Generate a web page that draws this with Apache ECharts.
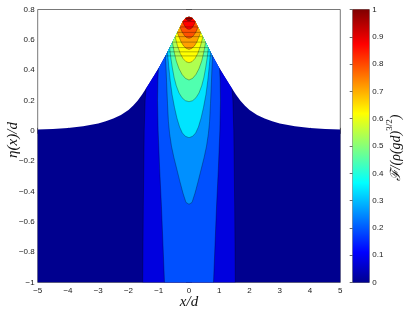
<!DOCTYPE html>
<html><head><meta charset="utf-8">
<script src="https://cdn.jsdelivr.net/npm/echarts@6/dist/echarts.min.js"></script>
<style>html,body{margin:0;padding:0;background:#fff}#c{width:407px;height:311px}</style>
</head><body><div id="c"></div>
<script>
// ---- data ----
const xTicks = [-5,-4,-3,-2,-1,0,1,2,3,4,5];
const yTicks = [-1,-0.8,-0.6,-0.4,-0.2,0,0.2,0.4,0.6,0.8];
const cbTicks = [0,0.1,0.2,0.3,0.4,0.5,0.6,0.7,0.8,0.9,1];

// free surface eta(x)/d
const surfaceX = [-5,-4.5,-4,-3.5,-3,-2.75,-2.5,-2.25,-2,-1.85,-1.7,-1.55,-1.4,-1.25,-1,-0.75,-0.5,-0.3,-0.2,-0.1,0,
                  0.1,0.2,0.3,0.5,0.75,1,1.25,1.4,1.55,1.7,1.85,2,2.25,2.5,2.75,3,3.5,4,4.5,5];
const surfaceY = [0.008,0.012,0.019,0.03,0.049,0.063,0.081,0.105,0.138,0.165,0.198,0.24,0.285,0.333,0.415,0.505,0.605,0.685,0.724,0.745,0.752,
                  0.745,0.724,0.685,0.605,0.505,0.415,0.333,0.285,0.24,0.198,0.165,0.138,0.105,0.081,0.063,0.049,0.03,0.019,0.012,0.008];

// contour lines (left branch, bottom -> free surface); the picture is symmetric about x = 0
const contour1  = [[-1.53,-1],[-1.51,-0.5],[-1.48,0],[-1.45,0.2],[-1.42,0.279]];
const contour2  = [[-0.81,-1],[-0.86,-0.75],[-0.91,-0.5],[-0.97,-0.25],[-1.02,0],[-1.04,0.2],[-1.03,0.33],[-1.01,0.412]];
const contour3  = [[0,-0.484],[-0.1,-0.472],[-0.2,-0.41],[-0.3,-0.335],[-0.4,-0.255],[-0.5,-0.175],[-0.58,-0.1],[-0.64,-0.02],[-0.68,0.06],[-0.71,0.18],[-0.74,0.32],[-0.76,0.42],[-0.78,0.494]];
const contour4  = [[0,-0.045],[-0.12,-0.036],[-0.22,-0.014],[-0.31,0.025],[-0.4,0.085],[-0.48,0.155],[-0.56,0.24],[-0.62,0.33],[-0.67,0.425],[-0.71,0.521]];
const contour5  = [[0,0.192],[-0.12,0.199],[-0.23,0.218],[-0.33,0.25],[-0.42,0.297],[-0.49,0.35],[-0.55,0.415],[-0.6,0.48],[-0.64,0.549]];
const contour6  = [[0,0.335],[-0.12,0.346],[-0.23,0.372],[-0.33,0.41],[-0.42,0.46],[-0.49,0.52],[-0.55,0.585]];
const contour7  = [[0,0.449],[-0.1,0.456],[-0.2,0.477],[-0.29,0.51],[-0.38,0.56],[-0.46,0.621]];
const contour8  = [[0,0.537],[-0.09,0.543],[-0.18,0.56],[-0.26,0.585],[-0.33,0.62],[-0.39,0.649]];
const contour9  = [[0,0.61],[-0.08,0.615],[-0.15,0.628],[-0.23,0.652],[-0.3,0.685]];
const contour10 = [[0,0.669],[-0.06,0.672],[-0.11,0.682],[-0.16,0.698],[-0.21,0.72]];
const contour11 = [[0,0.726],[-0.04,0.727],[-0.08,0.732],[-0.12,0.741]];

const bandColors = ['#00008f','#0000df','#0050ff','#0090ff','#00e4ff','#50ffaf','#afff50','#ffff00','#ffa000','#ff5000','#ff0000','#9f0000'];
const jetStops = [[0,'#00008f'],[0.111,'#0000ff'],[0.365,'#00ffff'],[0.619,'#ffff00'],[0.873,'#ff0000'],[1,'#800000']];

// ---- build polygons / line paths from the arrays ----
const contours = [contour1,contour2,contour3,contour4,contour5,contour6,contour7,contour8,contour9,contour10,contour11];
const surface = surfaceX.map((x,i)=>[x,surfaceY[i]]);
const polys = [[[-5,-1]].concat(surface,[[5,-1]])];
const lines = [];
contours.forEach(left=>{
  const xe = left[left.length-1][0];
  const mid = surface.filter(p=>p[0]>xe+1e-9 && p[0]< -xe-1e-9);
  const right = left.slice().reverse().map(p=>[-p[0],p[1]]);
  polys.push(left.concat(mid,right));
  if (left[0][0] === 0) lines.push(left.concat(right));
  else { lines.push(left); lines.push(right); }
});

const minus = v => { const s = String(+Math.abs(v).toFixed(2)); return v < 0 ? '\u2212'+s : s; };
const lab = {fontSize:8,color:'#1a1a1a',fontFamily:'Liberation Sans, Arial, sans-serif'};
const tick = {inside:true,length:3,lineStyle:{color:'#444',width:0.8}};

const chart = echarts.init(document.getElementById('c'),null,{renderer:'canvas'});
chart.setOption({
  animation:false,
  grid:[
    {left:37.7,right:66.7,top:9.5,bottom:28.5,show:true,borderColor:'#555',borderWidth:0.8,backgroundColor:'#fff'},
    {left:352.7,width:16.6,top:9.5,bottom:28.5,show:true,borderColor:'#555',borderWidth:0.8}
  ],
  xAxis:[
    {type:'value',gridIndex:0,min:xTicks[0],max:xTicks[xTicks.length-1],interval:1,position:'bottom',
     axisLine:{show:false},axisTick:tick,splitLine:{show:false},axisLabel:Object.assign({margin:4,formatter:minus},lab)},
    {type:'value',gridIndex:0,min:xTicks[0],max:xTicks[xTicks.length-1],interval:1,position:'top',
     axisLine:{show:false},axisTick:tick,splitLine:{show:false},axisLabel:{show:false}},
    {type:'value',gridIndex:1,min:0,max:1,show:false}
  ],
  yAxis:[
    {type:'value',gridIndex:0,min:yTicks[0],max:yTicks[yTicks.length-1],interval:0.2,position:'left',
     axisLine:{show:false},axisTick:tick,splitLine:{show:false},axisLabel:Object.assign({margin:3,formatter:minus},lab)},
    {type:'value',gridIndex:0,min:yTicks[0],max:yTicks[yTicks.length-1],interval:0.2,position:'right',
     axisLine:{show:false},axisTick:tick,splitLine:{show:false},axisLabel:{show:false}},
    {type:'value',gridIndex:1,min:cbTicks[0],max:cbTicks[cbTicks.length-1],interval:0.1,position:'right',
     axisLine:{show:false},axisTick:tick,splitLine:{show:false},axisLabel:Object.assign({margin:3,formatter:minus},lab)}
  ],
  series:[
    {type:'custom',xAxisIndex:0,yAxisIndex:0,clip:true,z:1,
     data:polys.map(p=>p[0]),
     renderItem:(params,api)=>({type:'polygon',shape:{points:polys[params.dataIndex].map(p=>api.coord(p))},
       style:{fill:bandColors[params.dataIndex],stroke:null}})},
    {type:'custom',xAxisIndex:0,yAxisIndex:0,clip:true,z:2,
     data:lines.map(p=>p[0]),
     renderItem:(params,api)=>({type:'polyline',shape:{points:lines[params.dataIndex].map(p=>api.coord(p))},
       style:{stroke:'rgba(0,0,0,0.6)',lineWidth:0.5,fill:null}})},
    {type:'custom',xAxisIndex:2,yAxisIndex:2,z:1,
     data:[[0,0,1,1]],
     renderItem:(params,api)=>{
       const a = api.coord([api.value(0),api.value(1)]), b = api.coord([api.value(2),api.value(3)]);
       return {type:'rect',shape:{x:a[0],y:b[1],width:b[0]-a[0],height:a[1]-b[1]},
         style:{fill:new echarts.graphic.LinearGradient(0,1,0,0,jetStops.map(s=>({offset:s[0],color:s[1]})))}};
     }}
  ],
  graphic:[
    {type:'text',x:189,y:302,
     style:{text:'x/d',align:'center',verticalAlign:'middle',
       font:'italic 15px "Liberation Serif", serif',fill:'#111'}},
    {type:'text',x:13,y:140,rotation:Math.PI/2,
     style:{text:'\u03b7(x)/d',align:'center',verticalAlign:'middle',
       font:'italic 15px "Liberation Serif", serif',fill:'#111'}},
    {type:'text',x:394,y:148,rotation:Math.PI/2,
     style:{text:'{a|\u2131/(\u03c1(gd)}{s|3/2}{a|)}',align:'center',verticalAlign:'middle',
       rich:{a:{font:'italic 14px "Liberation Serif", "DejaVu Serif", serif',fill:'#111',lineHeight:18,verticalAlign:'bottom'},
             s:{font:'9px "Liberation Serif", serif',fill:'#111',lineHeight:18,verticalAlign:'top'}}}}
  ]
});
</script></body></html>
